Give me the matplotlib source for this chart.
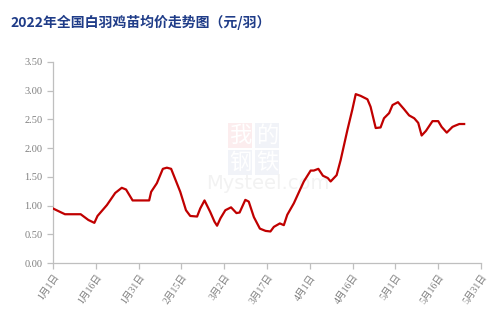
import matplotlib
matplotlib.use("Agg")
import matplotlib.pyplot as plt
import pandas as pd

plt.rcParams['font.family'] = ['Noto Sans CJK SC', 'DejaVu Sans']

# days counted from 2022-01-01, price in yuan per chick
day_offsets = [0, 2.5, 4.2, 9.7, 12.4, 14.5, 15.6, 18.9, 21.8, 24.1, 25.6, 27.9,
               33.7, 34.4, 36.4, 38.5, 39.9, 41.4, 44.6, 46.6, 48.1, 50.5, 51.6,
               53.1, 55.1, 56.6, 57.5, 58.7, 60.4, 62.4, 64.3, 65.4, 67.4, 68.6,
               70.4, 72.5, 74.5, 76.2, 77.4, 79.5, 80.9, 82.1, 84.4, 87.9, 90.3,
               91.4, 93.0, 94.6, 96.3, 97.3, 99.4, 100.8, 103.2, 104.9, 106.1,
               107.8, 110.2, 111.3, 113.1, 114.8, 116.0, 117.8, 119.0, 120.9,
               123.0, 124.8, 126.6, 128.0, 129.2, 130.7, 133.0, 135.0, 136.2,
               138.0, 140.0, 140.9, 142.4, 144.1]
prices = [0.95, 0.89, 0.85, 0.85, 0.75, 0.70, 0.82, 1.01, 1.22, 1.31, 1.28, 1.09,
          1.09, 1.24, 1.39, 1.64, 1.66, 1.64, 1.24, 0.92, 0.82, 0.81, 0.95,
          1.09, 0.89, 0.72, 0.65, 0.78, 0.92, 0.97, 0.87, 0.88, 1.10, 1.07,
          0.80, 0.60, 0.56, 0.55, 0.63, 0.69, 0.66, 0.84, 1.04, 1.42, 1.61,
          1.61, 1.64, 1.52, 1.48, 1.42, 1.53, 1.79, 2.32, 2.67, 2.94,
          2.91, 2.85, 2.72, 2.35, 2.36, 2.52, 2.61, 2.75, 2.80,
          2.68, 2.57, 2.52, 2.44, 2.22, 2.30, 2.47, 2.47, 2.37,
          2.27, 2.37, 2.39, 2.42, 2.42]
tick_labels = ['1月1日', '1月16日', '1月31日', '2月15日', '3月2日', '3月17日',
               '4月1日', '4月16日', '5月1日', '5月16日', '5月31日']
y_ticks = [0.0, 0.5, 1.0, 1.5, 2.0, 2.5, 3.0, 3.5]

start = pd.Timestamp('2022-01-01')
dates = [start + pd.Timedelta(days=d) for d in day_offsets]
tick_dates = pd.date_range('2022-01-01', periods=len(tick_labels), freq='15D')

tick_font = ['Liberation Serif', 'Noto Sans CJK SC']

# (1): Figure instance:
figure = plt.figure(figsize=(5.0, 3.26), dpi=100)

# (2): Add an Axes Object:
axes_object = figure.add_axes([0.106, 0.193, 0.856, 0.617])

# faint watermark, below the line
wm_chars = [('我', 0.480, 0.584, '#FCEDEE'), ('的', 0.534, 0.584, '#F1F3F8'),
            ('钢', 0.480, 0.502, '#F1F3F8'), ('铁', 0.534, 0.502, '#F1F3F8')]
for ch, wx, wy, bg in wm_chars:
    axes_object.text(wx, wy, ch, fontsize=16, color='white', ha='center',
                     va='center', transform=figure.transFigure, zorder=0,
                     bbox=dict(boxstyle='square,pad=0.05', facecolor=bg,
                               edgecolor='none'))
axes_object.text(0.535, 0.438, 'Mysteel.com', fontsize=14, color='#F2F2F2',
                 ha='center', va='center', family=['DejaVu Sans'],
                 transform=figure.transFigure, zorder=0)

axes_object.plot(dates, prices, color='#C00000', linewidth=1.6, zorder=3)

axes_object.set_xlim(start, tick_dates[-1])
axes_object.set_ylim(0, 3.5)
axes_object.set_yticks(y_ticks)
axes_object.set_yticklabels([f"{v:.2f}" for v in y_ticks], family=tick_font)
axes_object.set_xticks(tick_dates)
axes_object.set_xticklabels(tick_labels, rotation=55, ha='right',
                            rotation_mode='anchor', family=tick_font)

for side in ['top', 'right']:
    axes_object.spines[side].set_visible(False)
for side in ['left', 'bottom']:
    axes_object.spines[side].set_color('#BFBFBF')
    axes_object.spines[side].set_linewidth(0.9)
axes_object.tick_params(axis='both', colors='#BFBFBF', length=4, width=0.9,
                        labelsize=7.5, labelcolor='#7F7F7F')
axes_object.tick_params(axis='x', pad=3, labelsize=7)

figure.text(0.02, 0.93, '2022年全国白羽鸡苗均价走势图（元/羽）', fontsize=10,
            fontweight='bold', color='#1F3C88', ha='left', va='center')

plt.savefig('out.png', dpi=100)
